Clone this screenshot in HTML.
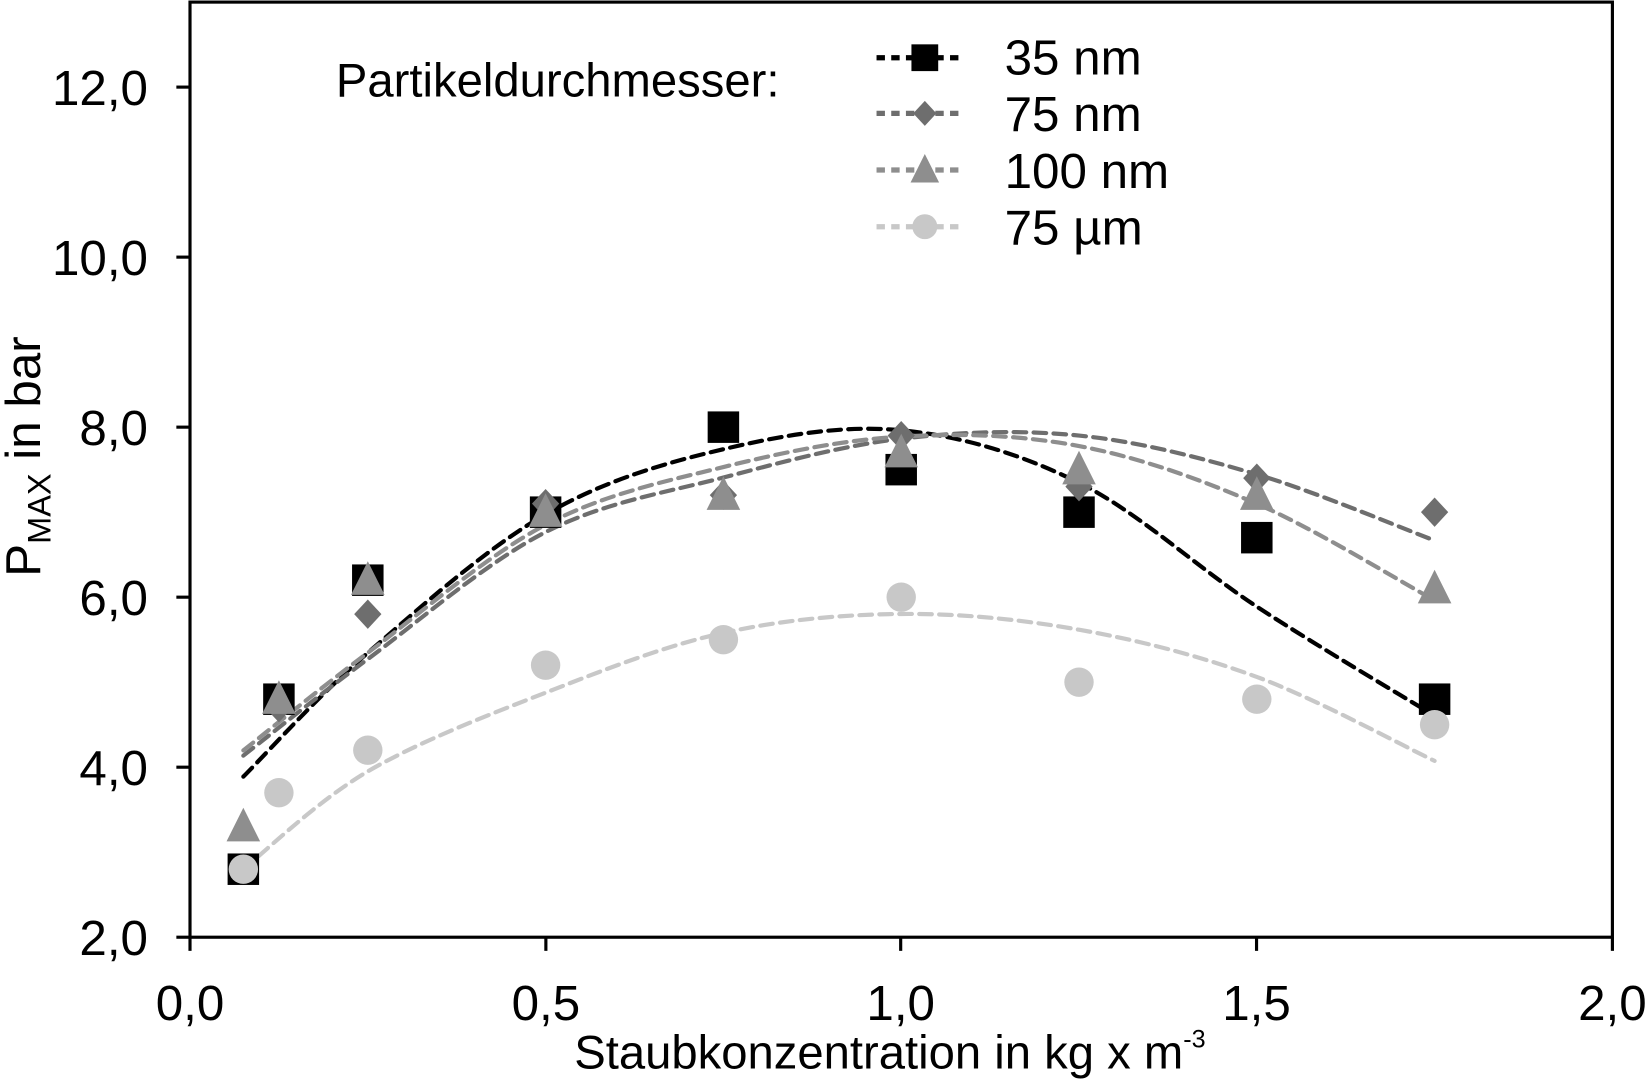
<!DOCTYPE html>
<html><head><meta charset="utf-8"><style>html,body{margin:0;padding:0;background:#fff}svg{display:block}</style></head>
<body>
<svg id="s" width="1646" height="1081" viewBox="0 0 1568 1030" preserveAspectRatio="none" xmlns="http://www.w3.org/2000/svg" font-family="Liberation Sans, sans-serif">
<rect x="181" y="2" width="1355" height="891" fill="none" stroke="#000" stroke-width="3"/>
<g stroke="#000" stroke-width="3">
<line x1="168" y1="893" x2="181" y2="893"/><line x1="168" y1="731" x2="181" y2="731"/><line x1="168" y1="569" x2="181" y2="569"/><line x1="168" y1="407" x2="181" y2="407"/><line x1="168" y1="245" x2="181" y2="245"/><line x1="168" y1="83" x2="181" y2="83"/>
<line x1="181" y1="893" x2="181" y2="906"/><line x1="520" y1="893" x2="520" y2="906"/><line x1="858" y1="893" x2="858" y2="906"/><line x1="1197" y1="893" x2="1197" y2="906"/><line x1="1536" y1="893" x2="1536" y2="906"/>
</g>
<g font-size="47" text-anchor="end" fill="#000">
<text x="141" y="910">2,0</text><text x="141" y="748">4,0</text><text x="141" y="586">6,0</text><text x="141" y="424">8,0</text><text x="141" y="262">10,0</text><text x="141" y="100">12,0</text>
</g>
<g font-size="47" fill="#000" text-anchor="middle">
<text x="181" y="972">0,0</text><text x="520" y="972">0,5</text><text x="858" y="972">1,0</text><text x="1197" y="972">1,5</text><text x="1536" y="972">2,0</text>
</g>
<text x="547" y="1018" font-size="45">Staubkonzentration in kg x m<tspan font-size="24" dy="-20">-3</tspan></text>
<text transform="translate(38,435) rotate(-90)" font-size="47" text-anchor="middle">P<tspan font-size="31" dy="10">MAX</tspan><tspan dy="-10"> in bar</tspan></text>
<text x="320" y="92" font-size="45">Partikeldurchmesser:</text>
<g id="lines" fill="none" stroke-width="4" stroke-dasharray="12,7" stroke-linecap="round"></g>
<g id="marks"></g>
<g font-size="47">
<text x="957" y="71">35 nm</text><text x="957" y="125">75 nm</text><text x="957" y="179">100 nm</text><text x="957" y="233">75 µm</text>
</g>
</svg>
<script>
var NS="http://www.w3.org/2000/svg";
function X(v){return 181+v*677.5}function Y(v){return 893-(v-2)*81}
var xs=[0.075,0.25,0.5,0.75,1.0,1.25,1.5,1.75];
var series=[
{c:"#000",m:"sq",ly:[740,622,490,428,410,460,578,682],
 d:[[0.075,2.8],[0.125,4.8],[0.25,6.2],[0.5,7.0],[0.75,8.0],[1.0,7.5],[1.25,7.0],[1.5,6.7],[1.75,4.8]]},
{c:"#6e6e6e",m:"di",ly:[720,628,507,455,418,415,452,515],
 d:[[0.125,4.7],[0.25,5.8],[0.5,7.1],[0.75,7.2],[1.0,7.9],[1.25,7.3],[1.5,7.4],[1.75,7.0]]},
{c:"#8e8e8e",m:"tr",ly:[715,622,500,445,416,425,480,572],
 d:[[0.075,3.3],[0.125,4.8],[0.25,6.2],[0.5,7.0],[0.75,7.2],[1.0,7.7],[1.25,7.5],[1.5,7.2],[1.75,6.1]]},
{c:"#c8c8c8",m:"ci",ly:[828,735,660,603,585,600,645,725],
 d:[[0.075,2.8],[0.125,3.7],[0.25,4.2],[0.5,5.2],[0.75,5.5],[1.0,6.0],[1.25,5.0],[1.5,4.8],[1.75,4.5]]}
];
function el(t,a,p){var e=document.createElementNS(NS,t);for(var k in a)e.setAttribute(k,a[k]);p.appendChild(e);return e}
function mark(type,x,y,c,p,s){s=s||1;
 if(type=="sq")el("rect",{x:x-15*s,y:y-15*s,width:30*s,height:30*s,fill:c},p);
 else if(type=="di")el("polygon",{points:(x)+","+(y-14*s)+" "+(x+13*s)+","+y+" "+x+","+(y+14*s)+" "+(x-13*s)+","+y,fill:c},p);
 else if(type=="tr")el("polygon",{points:x+","+(y-18*s)+" "+(x+16*s)+","+(y+14*s)+" "+(x-16*s)+","+(y+14*s),fill:c},p);
 else el("circle",{cx:x,cy:y,r:14*s,fill:c},p);
}
var L=document.getElementById("lines"),M=document.getElementById("marks");
series.forEach(function(s){
 var P=xs.map(function(x,i){return [X(x),s.ly[i]]});
 var d="M"+P[0][0]+","+P[0][1];
 for(var i=0;i<P.length-1;i++){
  var p0=P[Math.max(i-1,0)],p1=P[i],p2=P[i+1],p3=P[Math.min(i+2,P.length-1)];
  d+=" C"+(p1[0]+(p2[0]-p0[0])/6)+","+(p1[1]+(p2[1]-p0[1])/6)+" "+(p2[0]-(p3[0]-p1[0])/6)+","+(p2[1]-(p3[1]-p1[1])/6)+" "+p2[0]+","+p2[1];
 }
 el("path",{d:d,stroke:s.c},L);
});
series.forEach(function(s){s.d.forEach(function(p){mark(s.m,X(p[0]),Y(p[1]),s.c,M)})});
var ly=[55,108,162,216];
series.forEach(function(s,i){
 el("line",{x1:835,y1:ly[i],x2:915,y2:ly[i],stroke:s.c,"stroke-width":5,"stroke-dasharray":"8,6"},M);
 mark(s.m,881,ly[i],s.c,M,0.85);
});
</script>
</body></html>
